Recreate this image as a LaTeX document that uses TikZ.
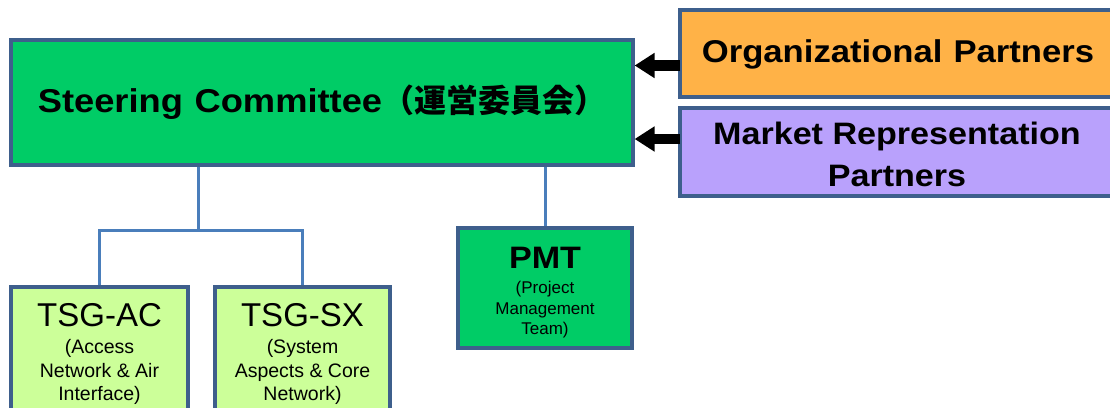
\documentclass[tikz,border=0pt]{standalone}
\usepackage{fontspec}
\setmainfont{Liberation Sans}[BoldFeatures={FakeStretch=1.1}]
\newfontfamily\jpfont{Noto Sans CJK JP}
\usetikzlibrary{arrows.meta,backgrounds}

\definecolor{steergreen}{HTML}{00CC66}
\definecolor{partorange}{HTML}{FFB247}
\definecolor{partpurple}{HTML}{B9A1FC}
\definecolor{tsggreen}{HTML}{CCFF99}
\definecolor{rimblue}{HTML}{3E5F8C}
\definecolor{linkblue}{HTML}{4A7EBB}

\newcommand{\fs}[2]{\fontsize{#1}{#2}\selectfont}

\begin{document}
\begin{tikzpicture}[x=1pt,y=-1pt,
  box/.style={draw=rimblue, line width=3.2pt, rectangle, inner sep=0pt, outer sep=0pt},
  link/.style={draw=linkblue, line width=3pt},
  feed/.style={line width=10.5pt, -{Triangle[length=20pt,width=24pt]}},
  title/.style={inner sep=0pt, align=center, text=black},
]
\useasboundingbox (0,0) rectangle (1110,407);
\clip (0,0) rectangle (1110,407);

% committee and partners
\node[box, fill=steergreen, minimum width=622pt, minimum height=125pt,
      font=\fs{33}{40}\bfseries] (steer) at (322,102.5)
  {Steering\hspace{0.35em}Committee{\jpfont\bfseries\fs{32}{40}（運営委員会）}};
\node[box, fill=partorange, minimum width=436pt, minimum height=87pt] (orgp) at (898,53.5) {};
\node[box, fill=partpurple, minimum width=436pt, minimum height=88pt] (mrp) at (898,152) {};
\node[title, font=\fs{31.5}{40}\bfseries] (orgtxt) at (898,54) {Organizational\hspace{0.35em}Partners};
\node[title, font=\fs{31}{42}\bfseries] (mrptxt) at (897,154) {Market Representation\\Partners};

% working groups
\node[box, fill=steergreen, line width=3.6pt, minimum width=174pt, minimum height=120pt] (pmt) at (545,288) {};
\node[box, fill=tsggreen, minimum width=177pt, minimum height=143pt] (tsgac) at (99.5,358.5) {};
\node[box, fill=tsggreen, minimum width=175pt, minimum height=143pt] (tsgsx) at (302.5,358.5) {};

\node[title, font=\fs{31}{36}\bfseries] (pmtname) at (545,258) {PMT};
\node[title, font=\fs{17}{20.5}] (pmtnote) at (545,310) {(Project\\Management\\Team)};
\node[title, font=\fs{33}{38}] (acname) at (99.5,315) {TSG-AC};
\node[title, font=\fs{19.5}{23.5}] (acnote) at (99.5,372) {(Access\\Network \& Air\\Interface)};
\node[title, font=\fs{33}{38}] (sxname) at (302.5,315) {TSG-SX};
\node[title, font=\fs{19.5}{23.5}] (sxnote) at (302.5,372) {(System\\Aspects \& Core\\Network)};

% reporting lines
\coordinate (split) at (198,230);
\coordinate (row1) at (0,65.5);
\coordinate (row2) at (0,139);
\begin{scope}[on background layer]
  \fill[white] (0,0) rectangle (1110,407);
  \draw[link] (steer.south -| split) -- (split);
  \draw[link] (tsgac.north) |- (split) -| (tsgsx.north);
  \draw[link] (steer.south -| pmt.north) -- (pmt.north);
\end{scope}

% inputs to the committee
\draw[feed] (orgp.west |- row1) -- ([xshift=1.6pt]steer.east |- row1);
\draw[feed] (mrp.west |- row2) -- ([xshift=1.6pt]steer.east |- row2);
\end{tikzpicture}
\end{document}
